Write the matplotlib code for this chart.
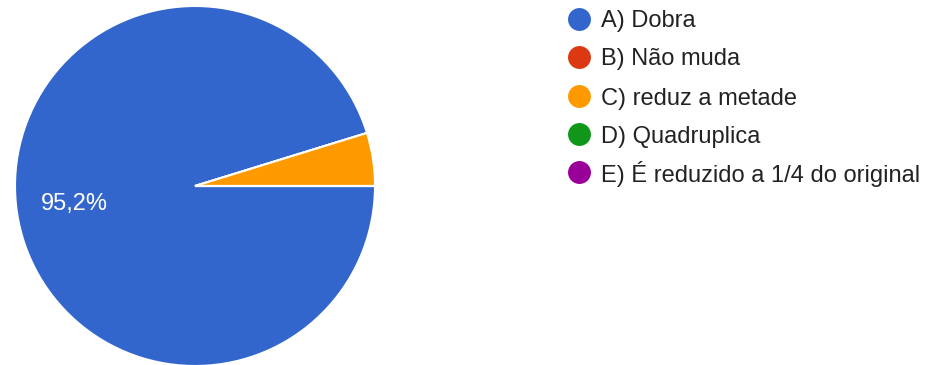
import matplotlib.pyplot as plt
from matplotlib.lines import Line2D

plt.rcParams['font.family'] = ['Liberation Sans', 'DejaVu Sans']

labels = ["A) Dobra", "B) Não muda", "C) reduz a metade", "D) Quadruplica",
          "E) É reduzido a 1/4 do original"]
counts = [20, 0, 1, 0, 0]
colors = ["#3366CC", "#DC3912", "#FF9900", "#109618", "#990099"]

W, H = 932, 365
fig = plt.figure(figsize=(W / 100, H / 100), dpi=100)

# pie area in pixel coordinates: center (195, 186), radius 180
cx, cy, r = 195, 186, 180
ax = fig.add_axes([(cx - r) / W, (H - cy - r) / H, 2 * r / W, 2 * r / H])


def pct(p):
    return f"{p:.1f}%".replace(".", ",") if p > 10 else ""


ax.pie(counts, colors=colors, startangle=0, counterclock=False,
       autopct=pct, pctdistance=0.675, radius=1,
       wedgeprops=dict(edgecolor="white", linewidth=1.5),
       textprops=dict(color="white", fontsize=17))
ax.set_xlim(-1, 1)
ax.set_ylim(-1, 1)
ax.set_aspect("equal")
ax.axis("off")

# legend rows
rows_y = [19, 57, 96, 134, 172]
for lab, col, y in zip(labels, colors, rows_y):
    fig.add_artist(Line2D([579 / W], [(H - y) / H], marker="o", markersize=16.5,
                          color=col, markeredgewidth=0, transform=fig.transFigure))
    fig.text(601 / W, (H - y) / H, lab, fontsize=17, color="#222222",
             va="center_baseline", ha="left")

fig.savefig("out.png", dpi=100)
